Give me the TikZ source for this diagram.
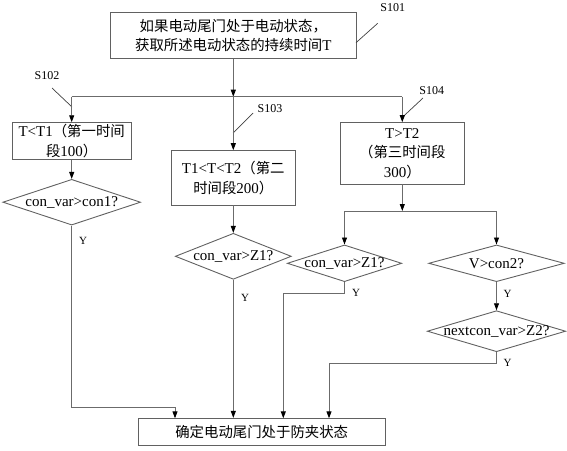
\documentclass[tikz,border=0pt]{standalone}
\usepackage{fontspec}
\setmainfont{Liberation Serif}
\newfontfamily\cjk{Noto Sans CJK SC}[Scale=0.96]
\usetikzlibrary{shapes.geometric,arrows.meta}
\def\zh#1{{\cjk #1}}
\def\ctext#1{\makebox[0pt]{#1}}
\colorlet{line edge}{black!58}
\colorlet{box edge}{black!62}
\tikzset{box/.style={draw=box edge, line width=0.9pt, inner sep=0pt, align=center, font=\fontsize{15}{19.5}\selectfont},
	dia/.style={diamond, draw=box edge, line width=0.9pt, inner sep=0pt, font=\fontsize{15}{18}\selectfont},
	flow/.style={draw=line edge, line width=0.9pt, -{Triangle[length=7pt,width=5pt,color=black]}},
	plain/.style={draw=line edge, line width=0.9pt},
	lead/.style={draw=black!75, line width=0.7pt},
	tag/.style={font=\fontsize{12}{12}\selectfont, inner sep=0pt},
	yes/.style={font=\fontsize{11}{11}\selectfont, inner sep=0pt}}

\begin{document}
\begin{tikzpicture}[x=1pt, y=-1pt]
\useasboundingbox (0,0) rectangle (567,450);

\node[box, minimum width=245.3pt, minimum height=45.6pt] (start) at (233.3,35.5) {\zh{如果电动尾门处于电动状态，}\\\zh{获取所述电动状态的持续时间}T};
\node[box, minimum width=119.3pt, minimum height=36.6pt] (t1box) at (71.7,141) {T<T1\zh{（第一时间}\\\zh{段}100\zh{）}};
\node[box, minimum width=123.3pt, minimum height=54.3pt] (t2box) at (233.3,177.8) {T1<T<T2\zh{（第二}\\\zh{时间段}200\zh{）}};
\node[box, minimum width=123.3pt, minimum height=61.3pt] (t3box) at (402.3,153.3) {T>T2\\\zh{（第三时间段}\\300\zh{）}};

\node[dia, minimum width=137.7pt, minimum height=45.7pt] (d1) at (71.7,202.2) {\ctext{con\_var>con1?}};
\node[dia, minimum width=116pt, minimum height=46pt] (d2) at (233.3,256.3) {\ctext{con\_var>Z1?}};
\node[dia, minimum width=114.4pt, minimum height=36.7pt] (d3) at (344.5,263.3) {\ctext{con\_var>Z1?}};
\node[dia, minimum width=135.6pt, minimum height=36.7pt] (d4) at (496.5,263.3) {\ctext{V>con2?}};
\node[dia, minimum width=138.4pt, minimum height=41pt] (d5) at (496.5,331.2) {\ctext{nextcon\_var>Z2?}};

\node[box, minimum width=246.7pt, minimum height=27.4pt] (end) at (261.7,432) {\zh{确定电动尾门处于防夹状态}};

% step labels
\node[tag] (s101) at (392.7,7.3) {S101};
\node[tag] (s102) at (47,76) {S102};
\node[tag] (s103) at (270,109) {S103};
\node[tag] (s104) at (431.7,90.7) {S104};
\draw[lead] (s101) ++(-15,16) -- ++(-21.7,19.4);
\draw[lead] (s102) ++(5,12) -- ++(20,19);
\draw[lead] (s103) ++(-17,4) -- ++(-20,20);
\draw[lead] (s104) ++(-8.7,7.3) -- ++(-20,18.7);

% branches
\coordinate (split) at (233.3,96.7);
\coordinate (split2) at (402.3,211);
\draw[flow] (start) -- (split);
\draw[plain] (t1box.north |- split) -- (t3box.north |- split);
\draw[flow] (t1box.north |- split) -- (t1box);
\draw[flow] (split) -- (t2box);
\draw[flow] (t3box.north |- split) -- (t3box);
\draw[flow] (t1box) -- (d1);
\draw[flow] (t2box) -- (d2);
\draw[flow] (t3box) -- (split2);
\draw[plain] (d3.north |- split2) -- (d4.north |- split2);
\draw[flow] (d3.north |- split2) -- (d3);
\draw[flow] (d4.north |- split2) -- (d4);
\draw[flow] (d4) -- (d5);

% into the end box
\coordinate (in1) at (175,418.3);
\coordinate (in3) at (283.3,418.3);
\coordinate (in4) at (329,418.3);
\draw[flow] (d1.south) -- ++(0,182.3) -| (in1);
\draw[flow] (d2) -- (d2.south |- end.north);
\draw[flow] (d3.south) -- ++(0,11) -| (in3);
\draw[flow] (d5.south) -- ++(0,11.6) -| (in4);

\node[yes] (y1) at (83,240.7) {Y};
\node[yes] (y2) at (245,298) {Y};
\node[yes] (y3) at (356,293) {Y};
\node[yes] (y4) at (507.7,293.7) {Y};
\node[yes] (y5) at (507.7,363.3) {Y};
\end{tikzpicture}
\end{document}
